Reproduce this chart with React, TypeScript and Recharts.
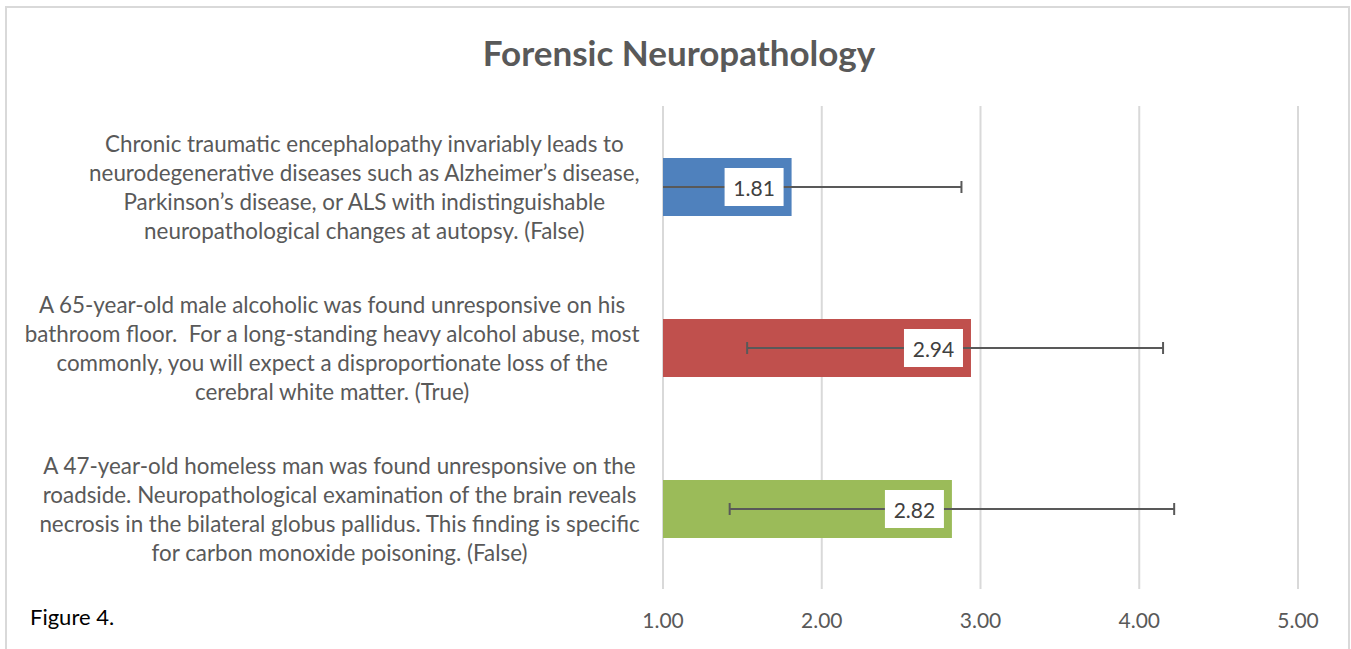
import React from 'react';
import { BarChart, Bar, XAxis, YAxis, CartesianGrid, ErrorBar, LabelList, Cell } from 'recharts';

const categoryLines: string[][] = [
  [
    'Chronic traumatic encephalopathy invariably leads to',
    'neurodegenerative diseases such as Alzheimer’s disease,',
    'Parkinson’s disease, or ALS with indistinguishable',
    'neuropathological changes at autopsy. (False)',
  ],
  [
    'A 65-year-old male alcoholic was found unresponsive on his',
    'bathroom floor.  For a long-standing heavy alcohol abuse, most',
    'commonly, you will expect a disproportionate loss of the',
    'cerebral white matter. (True)',
  ],
  [
    'A 47-year-old homeless man was found unresponsive on the',
    'roadside. Neuropathological examination of the brain reveals',
    'necrosis in the bilateral globus pallidus. This finding is specific',
    'for carbon monoxide poisoning. (False)',
  ],
];
const categories = categoryLines.map((l) => l.join(' '));
const means = [1.81, 2.94, 2.82];
const errLow = [1.07, 1.41, 1.4];
const errHigh = [1.07, 1.21, 1.4];
const barColors = ['#4F81BD', '#C0504D', '#9BBB59'];
const xTicks = [1, 2, 3, 4, 5];

const data = categories.map((name, i) => ({
  name,
  value: means[i],
  err: [errLow[i], errHigh[i]],
}));

const FONT = 'Lato, "Open Sans", sans-serif';
const CAT_SIZE = 22.4;
const LINE_H = 29;

const CHART_W = 1351;
const CHART_H = 649;
const MARGIN = { top: 106, right: 53, bottom: 20, left: 0 };
const YAXIS_W = 663;
const XAXIS_H = 40;
const PLOT_LEFT = MARGIN.left + YAXIS_W;
const PLOT_RIGHT = CHART_W - MARGIN.right;

let ctx: CanvasRenderingContext2D | null = null;
function measure(text: string, font: string): number {
  if (!ctx) ctx = document.createElement('canvas').getContext('2d');
  if (!ctx) return text.length * 10;
  ctx.font = font;
  return ctx.measureText(text).width;
}

const CategoryTick = (props: any) => {
  const { x, y, payload } = props;
  const idx = categories.indexOf(payload.value);
  const lines = idx >= 0 ? categoryLines[idx] : [String(payload.value)];
  const font = `${CAT_SIZE}px Lato`;
  const maxW = Math.max(...lines.map((l) => measure(l, font)));
  const cx = x - maxW / 2;
  const startY = y - ((lines.length - 1) * LINE_H) / 2;
  return (
    <text
      x={cx}
      y={startY}
      textAnchor="middle"
      fontFamily={FONT}
      fontSize={CAT_SIZE}
      fill="#595959"
      style={{ whiteSpace: 'pre' }}
    >
      {lines.map((l, i) => (
        <tspan key={i} x={cx} y={startY + i * LINE_H} dominantBaseline="central">
          {l}
        </tspan>
      ))}
    </text>
  );
};

const ValueLabel = (props: any) => {
  const { x, y, width, height, value } = props;
  const bw = 59;
  const bh = 38;
  const right = x + width - 8;
  const cy = y + height / 2;
  return (
    <g>
      <rect x={right - bw} y={cy - bh / 2} width={bw} height={bh} fill="#FFFFFF" />
      <text
        x={right - bw / 2}
        y={cy}
        textAnchor="middle"
        dominantBaseline="central"
        fontSize={21}
        fill="#404040"
        fontFamily={FONT}
      >
        {Number(value).toFixed(2)}
      </text>
    </g>
  );
};

export default function App() {
  return (
    <div
      style={{
        position: 'absolute',
        left: 0,
        top: 0,
        width: CHART_W,
        height: CHART_H,
        overflow: 'hidden',
        background: '#FFFFFF',
      }}
    >
      <svg width={0} height={0} style={{ position: 'absolute' }}>
        <defs>
          <clipPath id="plotAreaClip" clipPathUnits="userSpaceOnUse">
            <rect x={PLOT_LEFT} y={0} width={PLOT_RIGHT - PLOT_LEFT} height={CHART_H} />
          </clipPath>
        </defs>
      </svg>
      <div
        style={{
          position: 'absolute',
          left: 5,
          top: 6,
          width: 1345,
          height: 700,
          border: '2px solid #D9D9D9',
          boxSizing: 'border-box',
        }}
      />
      <div
        style={{
          position: 'absolute',
          left: 0,
          top: 30,
          width: 1358,
          textAlign: 'center',
          fontFamily: FONT,
          fontWeight: 700,
          fontSize: 35,
          color: '#595959',
          lineHeight: '44px',
        }}
      >
        Forensic Neuropathology
      </div>
      <div
        style={{
          position: 'absolute',
          left: 30,
          top: 603,
          fontFamily: FONT,
          fontSize: 22,
          color: '#000000',
          lineHeight: '28px',
        }}
      >
        Figure 4.
      </div>
      <div style={{ position: 'absolute', left: 0, top: 0 }}>
        <BarChart width={CHART_W} height={CHART_H} data={data} layout="vertical" margin={MARGIN}>
          <CartesianGrid horizontal={false} stroke="#D9D9D9" strokeWidth={2} />
          <XAxis
            type="number"
            domain={[1, 5]}
            ticks={xTicks}
            allowDataOverflow
            axisLine={false}
            tickLine={false}
            tickSize={0}
            tickMargin={24}
            height={XAXIS_H}
            tickFormatter={(v: number) => v.toFixed(2)}
            tick={{ fill: '#595959', fontSize: 21, fontFamily: FONT }}
          />
          <YAxis
            type="category"
            dataKey="name"
            width={YAXIS_W}
            axisLine={false}
            tickLine={false}
            tickSize={0}
            tickMargin={23}
            tick={<CategoryTick />}
            interval={0}
          />
          <Bar dataKey="value" barSize={58} isAnimationActive={false}>
            {data.map((d, i) => (
              <Cell key={d.name} fill={barColors[i]} />
            ))}
            <ErrorBar
              dataKey="err"
              direction="x"
              width={6}
              stroke="#595959"
              strokeWidth={2}
              clipPath="url(#plotAreaClip)"
            />
            <LabelList dataKey="value" content={<ValueLabel />} />
          </Bar>
        </BarChart>
      </div>
    </div>
  );
}
